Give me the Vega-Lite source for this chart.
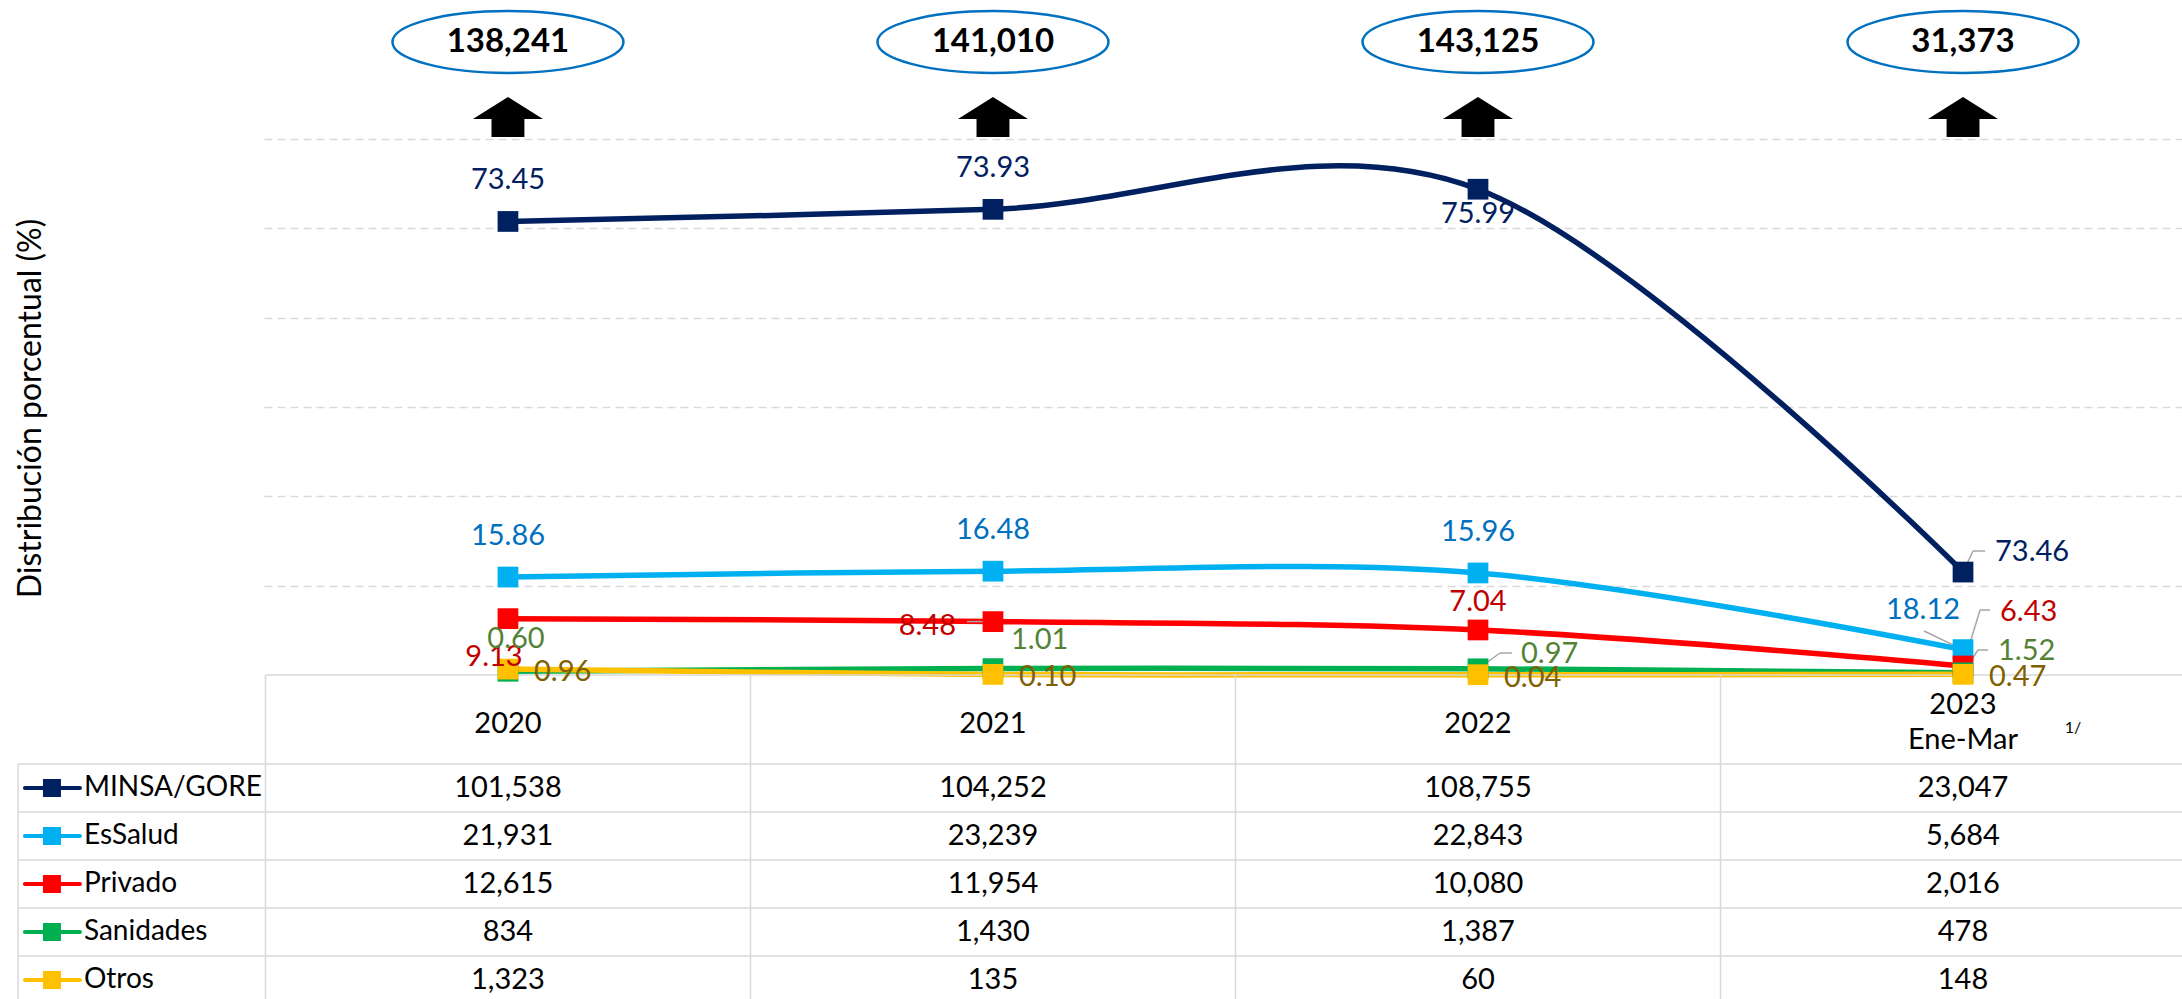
{
  "$schema": "https://vega.github.io/schema/vega-lite/v6.json",
  "width": 1918,
  "height": 675,
  "autosize": {"type": "none"},
  "padding": {"left": 264, "top": 0, "right": 0, "bottom": 324},
  "background": "white",
  "config": {"view": {"stroke": null}, "font": "Lato", "text": {"font": "Lato", "color": "#000000"}},
  "datasets": {
    "series": [
      {"series": "MINSA/GORE", "year": 2020, "count": 101538, "pct": 73.45},
      {"series": "MINSA/GORE", "year": 2021, "count": 104252, "pct": 73.93},
      {"series": "MINSA/GORE", "year": 2022, "count": 108755, "pct": 75.99},
      {"series": "MINSA/GORE", "year": 2023, "count": 23047, "pct": 73.46},
      {"series": "EsSalud", "year": 2020, "count": 21931, "pct": 15.86},
      {"series": "EsSalud", "year": 2021, "count": 23239, "pct": 16.48},
      {"series": "EsSalud", "year": 2022, "count": 22843, "pct": 15.96},
      {"series": "EsSalud", "year": 2023, "count": 5684, "pct": 18.12},
      {"series": "Privado", "year": 2020, "count": 12615, "pct": 9.13},
      {"series": "Privado", "year": 2021, "count": 11954, "pct": 8.48},
      {"series": "Privado", "year": 2022, "count": 10080, "pct": 7.04},
      {"series": "Privado", "year": 2023, "count": 2016, "pct": 6.43},
      {"series": "Sanidades", "year": 2020, "count": 834, "pct": 0.60},
      {"series": "Sanidades", "year": 2021, "count": 1430, "pct": 1.01},
      {"series": "Sanidades", "year": 2022, "count": 1387, "pct": 0.97},
      {"series": "Sanidades", "year": 2023, "count": 478, "pct": 1.52},
      {"series": "Otros", "year": 2020, "count": 1323, "pct": 0.96},
      {"series": "Otros", "year": 2021, "count": 135, "pct": 0.10},
      {"series": "Otros", "year": 2022, "count": 60, "pct": 0.04},
      {"series": "Otros", "year": 2023, "count": 148, "pct": 0.47}
    ],
    "totals": [
      {"year": 2020, "total": 138241},
      {"year": 2021, "total": 141010},
      {"year": 2022, "total": 143125},
      {"year": 2023, "total": 31373}
    ],
    "headers": [
      {"year": 2020, "label": "2020"},
      {"year": 2021, "label": "2021"},
      {"year": 2022, "label": "2022"},
      {"year": 2023, "label": "2023\nEne-Mar"}
    ],
    "one": [{}]
  },
  "resolve": {"scale": {"y": "independent"}},
  "layer": [
    {
      "data": {"name": "series"},
      "mark": {"type": "line", "interpolate": "cardinal", "strokeWidth": 5.5},
      "encoding": {
        "x": {"field": "year", "type": "quantitative", "scale": {"domain": [2019.497, 2023.4515], "nice": false, "zero": false}, "axis": null},
        "y": {"field": "count", "type": "quantitative", "scale": {"domain": [0, 151119], "nice": false, "zero": false},
          "axis": {"values": [20000, 40000, 60000, 80000, 100000, 120000], "labels": false, "ticks": false, "domain": false,
            "grid": true, "gridColor": "#d9d9d9", "gridDash": [8, 5], "gridWidth": 1.5,
            "title": "Distribución porcentual (%)", "titleFont": "Lato", "titleFontSize": 32, "titleFontWeight": "normal", "titleColor": "#000000",
            "titleX": -234, "titleY": 408, "titleAngle": -90, "titleAlign": "center", "titleBaseline": "middle"}},
        "color": {"field": "series", "type": "nominal",
          "scale": {"domain": ["MINSA/GORE", "EsSalud", "Privado", "Sanidades", "Otros"], "range": ["#002060", "#00B0F0", "#FF0000", "#00B050", "#FFC000"]},
          "legend": null}
      }
    },
    {
      "data": {"name": "one"},
      "mark": {"type": "rule", "color": "#d9d9d9", "strokeWidth": 1.5},
      "encoding": {
        "x": {"datum": 2019.5, "type": "quantitative", "scale": {"domain": [2019.497, 2023.4515], "nice": false, "zero": false}, "axis": null},
        "x2": {"datum": 2023.4515},
        "y": {"datum": 0, "type": "quantitative", "scale": {"domain": [0, 151119], "nice": false, "zero": false}, "axis": null}
      }
    },
    {
      "data": {"name": "one"},
      "mark": {"type": "rule", "color": "#d9d9d9", "strokeWidth": 1.5},
      "encoding": {
        "x": {"datum": 2019.5, "type": "quantitative", "scale": {"domain": [2019.497, 2023.4515], "nice": false, "zero": false}, "axis": null},
        "y": {"datum": 0, "type": "quantitative", "scale": {"domain": [0, 151119], "nice": false, "zero": false}, "axis": null},
        "y2": {"datum": -73000}
      }
    },
    {
      "data": {"name": "one"},
      "mark": {"type": "rule", "color": "#d9d9d9", "strokeWidth": 1.5},
      "encoding": {
        "x": {"datum": 2020.5, "type": "quantitative", "scale": {"domain": [2019.497, 2023.4515], "nice": false, "zero": false}, "axis": null},
        "y": {"datum": 0, "type": "quantitative", "scale": {"domain": [0, 151119], "nice": false, "zero": false}, "axis": null},
        "y2": {"datum": -73000}
      }
    },
    {
      "data": {"name": "one"},
      "mark": {"type": "rule", "color": "#d9d9d9", "strokeWidth": 1.5},
      "encoding": {
        "x": {"datum": 2021.5, "type": "quantitative", "scale": {"domain": [2019.497, 2023.4515], "nice": false, "zero": false}, "axis": null},
        "y": {"datum": 0, "type": "quantitative", "scale": {"domain": [0, 151119], "nice": false, "zero": false}, "axis": null},
        "y2": {"datum": -73000}
      }
    },
    {
      "data": {"name": "one"},
      "mark": {"type": "rule", "color": "#d9d9d9", "strokeWidth": 1.5},
      "encoding": {
        "x": {"datum": 2022.5, "type": "quantitative", "scale": {"domain": [2019.497, 2023.4515], "nice": false, "zero": false}, "axis": null},
        "y": {"datum": 0, "type": "quantitative", "scale": {"domain": [0, 151119], "nice": false, "zero": false}, "axis": null},
        "y2": {"datum": -73000}
      }
    },
    {
      "data": {"name": "one"},
      "mark": {"type": "rule", "color": "#d9d9d9", "strokeWidth": 1.5},
      "encoding": {
        "x": {"datum": 2018.99, "type": "quantitative", "scale": {"domain": [2019.497, 2023.4515], "nice": false, "zero": false}, "axis": null},
        "y": {"datum": -19925, "type": "quantitative", "scale": {"domain": [0, 151119], "nice": false, "zero": false}, "axis": null},
        "y2": {"datum": -73000}
      }
    },
    {
      "data": {"name": "series"},
      "transform": [{"filter": "datum.series === 'MINSA/GORE' && datum.year === 2023"}],
      "mark": {"type": "rule", "color": "#a6a6a6", "strokeWidth": 1.5},
      "encoding": {
        "x": {"field": "year", "type": "quantitative", "scale": {"domain": [2019.497, 2023.4515], "nice": false, "zero": false}, "axis": null},
        "y": {"field": "count", "type": "quantitative", "scale": {"domain": [0, 151119], "nice": false, "zero": false}, "axis": null},
        "x2": {"datum": 2023.0206},
        "y2": {"datum": 27761}
      }
    },
    {
      "data": {"name": "one"},
      "mark": {"type": "rule", "color": "#a6a6a6", "strokeWidth": 1.5},
      "encoding": {
        "x": {"datum": 2023.0206, "type": "quantitative", "scale": {"domain": [2019.497, 2023.4515], "nice": false, "zero": false}, "axis": null},
        "x2": {"datum": 2023.0454},
        "y": {"datum": 27761, "type": "quantitative", "scale": {"domain": [0, 151119], "nice": false, "zero": false}, "axis": null}
      }
    },
    {
      "data": {"name": "series"},
      "transform": [{"filter": "datum.series === 'EsSalud' && datum.year === 2023"}],
      "mark": {"type": "rule", "color": "#a6a6a6", "strokeWidth": 1.5},
      "encoding": {
        "x": {"field": "year", "type": "quantitative", "scale": {"domain": [2019.497, 2023.4515], "nice": false, "zero": false}, "axis": null},
        "y": {"field": "count", "type": "quantitative", "scale": {"domain": [0, 151119], "nice": false, "zero": false}, "axis": null},
        "x2": {"datum": 2022.9196},
        "y2": {"datum": 9851}
      }
    },
    {
      "data": {"name": "series"},
      "transform": [{"filter": "datum.series === 'Privado' && datum.year === 2023"}],
      "mark": {"type": "rule", "color": "#a6a6a6", "strokeWidth": 1.5},
      "encoding": {
        "x": {"field": "year", "type": "quantitative", "scale": {"domain": [2019.497, 2023.4515], "nice": false, "zero": false}, "axis": null},
        "y": {"field": "count", "type": "quantitative", "scale": {"domain": [0, 151119], "nice": false, "zero": false}, "axis": null},
        "x2": {"datum": 2023.0351},
        "y2": {"datum": 14552}
      }
    },
    {
      "data": {"name": "one"},
      "mark": {"type": "rule", "color": "#a6a6a6", "strokeWidth": 1.5},
      "encoding": {
        "x": {"datum": 2023.0351, "type": "quantitative", "scale": {"domain": [2019.497, 2023.4515], "nice": false, "zero": false}, "axis": null},
        "x2": {"datum": 2023.0557},
        "y": {"datum": 14552, "type": "quantitative", "scale": {"domain": [0, 151119], "nice": false, "zero": false}, "axis": null}
      }
    },
    {
      "data": {"name": "series"},
      "transform": [{"filter": "datum.series === 'Sanidades' && datum.year === 2023"}],
      "mark": {"type": "rule", "color": "#a6a6a6", "strokeWidth": 1.5},
      "encoding": {
        "x": {"field": "year", "type": "quantitative", "scale": {"domain": [2019.497, 2023.4515], "nice": false, "zero": false}, "axis": null},
        "y": {"field": "count", "type": "quantitative", "scale": {"domain": [0, 151119], "nice": false, "zero": false}, "axis": null},
        "x2": {"datum": 2023.0309},
        "y2": {"datum": 5597}
      }
    },
    {
      "data": {"name": "one"},
      "mark": {"type": "rule", "color": "#a6a6a6", "strokeWidth": 1.5},
      "encoding": {
        "x": {"datum": 2023.0309, "type": "quantitative", "scale": {"domain": [2019.497, 2023.4515], "nice": false, "zero": false}, "axis": null},
        "x2": {"datum": 2023.0515},
        "y": {"datum": 5597, "type": "quantitative", "scale": {"domain": [0, 151119], "nice": false, "zero": false}, "axis": null}
      }
    },
    {
      "data": {"name": "series"},
      "transform": [{"filter": "datum.series === 'Sanidades' && datum.year === 2022"}],
      "mark": {"type": "rule", "color": "#a6a6a6", "strokeWidth": 1.5},
      "encoding": {
        "x": {"field": "year", "type": "quantitative", "scale": {"domain": [2019.497, 2023.4515], "nice": false, "zero": false}, "axis": null},
        "y": {"field": "count", "type": "quantitative", "scale": {"domain": [0, 151119], "nice": false, "zero": false}, "axis": null},
        "x2": {"datum": 2022.0454},
        "y2": {"datum": 4925}
      }
    },
    {
      "data": {"name": "one"},
      "mark": {"type": "rule", "color": "#a6a6a6", "strokeWidth": 1.5},
      "encoding": {
        "x": {"datum": 2022.0454, "type": "quantitative", "scale": {"domain": [2019.497, 2023.4515], "nice": false, "zero": false}, "axis": null},
        "x2": {"datum": 2022.0701},
        "y": {"datum": 4925, "type": "quantitative", "scale": {"domain": [0, 151119], "nice": false, "zero": false}, "axis": null}
      }
    },
    {
      "data": {"name": "series"},
      "transform": [{"filter": "datum.series === 'Privado' && datum.year === 2021"}],
      "mark": {"type": "rule", "color": "#a6a6a6", "strokeWidth": 1.5},
      "encoding": {
        "x": {"field": "year", "type": "quantitative", "scale": {"domain": [2019.497, 2023.4515], "nice": false, "zero": false}, "axis": null},
        "y": {"field": "count", "type": "quantitative", "scale": {"domain": [0, 151119], "nice": false, "zero": false}, "axis": null},
        "x2": {"datum": 2020.9464}
      }
    },
    {
      "data": {"name": "series"},
      "mark": {"type": "point", "shape": "square", "filled": true, "opacity": 1, "size": 430},
      "encoding": {
        "x": {"field": "year", "type": "quantitative", "scale": {"domain": [2019.497, 2023.4515], "nice": false, "zero": false}, "axis": null},
        "y": {"field": "count", "type": "quantitative", "scale": {"domain": [0, 151119], "nice": false, "zero": false}, "axis": null},
        "color": {"field": "series", "type": "nominal",
          "scale": {"domain": ["MINSA/GORE", "EsSalud", "Privado", "Sanidades", "Otros"], "range": ["#002060", "#00B0F0", "#FF0000", "#00B050", "#FFC000"]},
          "legend": null}
      }
    },
    {
      "data": {"name": "series"},
      "encoding": {
        "x": {"field": "year", "type": "quantitative", "scale": {"domain": [2019.497, 2023.4515], "nice": false, "zero": false}, "axis": null},
        "y": {"field": "count", "type": "quantitative", "scale": {"domain": [0, 151119], "nice": false, "zero": false}, "axis": null},
        "text": {"field": "pct", "type": "quantitative", "format": ".2f"},
        "fill": {"field": "series", "type": "nominal",
          "scale": {"domain": ["MINSA/GORE", "EsSalud", "Privado", "Sanidades", "Otros"], "range": ["#002060", "#0070C0", "#C00000", "#548235", "#7F6000"]},
          "legend": null}
      },
      "layer": [
        {"transform": [{"filter": "(datum.series === 'MINSA/GORE' && datum.year <= 2021) || (datum.series === 'EsSalud' && datum.year <= 2022)"}],
         "mark": {"type": "text", "fontSize": 29, "baseline": "middle", "align": "center", "dy": -41}},
        {"transform": [{"filter": "datum.series === 'MINSA/GORE' && datum.year === 2022"}],
         "mark": {"type": "text", "fontSize": 29, "baseline": "middle", "align": "center", "dy": 25}},
        {"transform": [{"filter": "datum.series === 'MINSA/GORE' && datum.year === 2023"}],
         "mark": {"type": "text", "fontSize": 29, "baseline": "middle", "align": "left", "dx": 32, "dy": -20}},
        {"transform": [{"filter": "datum.series === 'EsSalud' && datum.year === 2023"}],
         "mark": {"type": "text", "fontSize": 29, "baseline": "middle", "align": "center", "dx": -40, "dy": -40}},
        {"transform": [{"filter": "datum.series === 'Privado' && datum.year === 2020"}],
         "mark": {"type": "text", "fontSize": 29, "baseline": "middle", "align": "center", "dx": -14, "dy": 38}},
        {"transform": [{"filter": "datum.series === 'Privado' && datum.year === 2021"}],
         "mark": {"type": "text", "fontSize": 29, "baseline": "middle", "align": "right", "dx": -37, "dy": 4}},
        {"transform": [{"filter": "datum.series === 'Privado' && datum.year === 2022"}],
         "mark": {"type": "text", "fontSize": 29, "baseline": "middle", "align": "center", "dy": -28}},
        {"transform": [{"filter": "datum.series === 'Privado' && datum.year === 2023"}],
         "mark": {"type": "text", "fontSize": 29, "baseline": "middle", "align": "left", "dx": 37, "dy": -54}},
        {"transform": [{"filter": "datum.series === 'Sanidades' && datum.year === 2020"}],
         "mark": {"type": "text", "fontSize": 29, "baseline": "middle", "align": "center", "dx": 8, "dy": -32}},
        {"transform": [{"filter": "datum.series === 'Sanidades' && datum.year === 2021"}],
         "mark": {"type": "text", "fontSize": 29, "baseline": "middle", "align": "left", "dx": 18, "dy": -29}},
        {"transform": [{"filter": "datum.series === 'Sanidades' && datum.year === 2022"}],
         "mark": {"type": "text", "fontSize": 29, "baseline": "middle", "align": "left", "dx": 43, "dy": -15}},
        {"transform": [{"filter": "datum.series === 'Sanidades' && datum.year === 2023"}],
         "mark": {"type": "text", "fontSize": 29, "baseline": "middle", "align": "left", "dx": 35, "dy": -22}},
        {"transform": [{"filter": "datum.series === 'Otros'"}],
         "mark": {"type": "text", "fontSize": 29, "baseline": "middle", "align": "left", "dx": 26, "dy": 3}}
      ]
    },
    {
      "data": {"name": "totals"},
      "mark": {"type": "point", "shape": "M-1,0C-1,-0.1477,-0.5523,-0.2675,0,-0.2675C0.5523,-0.2675,1,-0.1477,1,0C1,0.1477,0.5523,0.2675,0,0.2675C-0.5523,0.2675,-1,0.1477,-1,0Z",
        "size": 53361, "filled": true, "fill": "#ffffff", "stroke": "#0070C0", "strokeWidth": 2.5, "opacity": 1},
      "encoding": {
        "x": {"field": "year", "type": "quantitative", "scale": {"domain": [2019.497, 2023.4515], "nice": false, "zero": false}, "axis": null},
        "y": {"datum": 141716, "type": "quantitative", "scale": {"domain": [0, 151119], "nice": false, "zero": false}, "axis": null}
      }
    },
    {
      "data": {"name": "totals"},
      "mark": {"type": "text", "fontSize": 33, "fontWeight": "bold", "baseline": "middle", "align": "center", "color": "#000000"},
      "encoding": {
        "x": {"field": "year", "type": "quantitative", "scale": {"domain": [2019.497, 2023.4515], "nice": false, "zero": false}, "axis": null},
        "y": {"datum": 141716, "type": "quantitative", "scale": {"domain": [0, 151119], "nice": false, "zero": false}, "axis": null},
        "text": {"field": "total", "type": "quantitative", "format": ",d"}
      }
    },
    {
      "data": {"name": "totals"},
      "mark": {"type": "point", "shape": "M0,-0.571L1,0.057L0.47,0.057L0.47,0.571L-0.47,0.571L-0.47,0.057L-1,0.057Z",
        "size": 4900, "filled": true, "color": "#000000", "opacity": 1},
      "encoding": {
        "x": {"field": "year", "type": "quantitative", "scale": {"domain": [2019.497, 2023.4515], "nice": false, "zero": false}, "axis": null},
        "y": {"datum": 124925, "type": "quantitative", "scale": {"domain": [0, 151119], "nice": false, "zero": false}, "axis": null}
      }
    },
    {
      "data": {"name": "headers"},
      "transform": [{"filter": "datum.year < 2023"}],
      "mark": {"type": "text", "fontSize": 29, "baseline": "middle", "align": "center", "color": "#000000"},
      "encoding": {
        "x": {"field": "year", "type": "quantitative", "scale": {"domain": [2019.497, 2023.4515], "nice": false, "zero": false}, "axis": null},
        "y": {"datum": -10970, "type": "quantitative", "scale": {"domain": [0, 151119], "nice": false, "zero": false}, "axis": null},
        "text": {"field": "label", "type": "nominal"}
      }
    },
    {
      "data": {"name": "headers"},
      "transform": [{"filter": "datum.year === 2023"}],
      "mark": {"type": "text", "fontSize": 29, "baseline": "middle", "align": "center", "lineBreak": "\n", "lineHeight": 35, "color": "#000000"},
      "encoding": {
        "x": {"field": "year", "type": "quantitative", "scale": {"domain": [2019.497, 2023.4515], "nice": false, "zero": false}, "axis": null},
        "y": {"datum": -6716, "type": "quantitative", "scale": {"domain": [0, 151119], "nice": false, "zero": false}, "axis": null},
        "text": {"field": "label", "type": "nominal"}
      }
    },
    {
      "data": {"name": "one"},
      "mark": {"type": "text", "fontSize": 16, "baseline": "middle", "align": "center", "color": "#000000", "text": "1/"},
      "encoding": {
        "x": {"datum": 2023.2268, "type": "quantitative", "scale": {"domain": [2019.497, 2023.4515], "nice": false, "zero": false}, "axis": null},
        "y": {"datum": -11866, "type": "quantitative", "scale": {"domain": [0, 151119], "nice": false, "zero": false}, "axis": null}
      }
    },
    {
      "data": {"name": "series"},
      "transform": [{"filter": "datum.year === 2020"}],
      "mark": {"type": "rule", "color": "#d9d9d9", "strokeWidth": 1.5},
      "encoding": {
        "x": {"datum": 2018.99, "type": "quantitative", "scale": {"domain": [2019.497, 2023.4515], "nice": false, "zero": false}, "axis": null},
        "x2": {"datum": 2023.4515},
        "y": {"field": "series", "type": "nominal", "bandPosition": 0,
          "scale": {"type": "band", "domain": ["MINSA/GORE", "EsSalud", "Privado", "Sanidades", "Otros"], "range": [764, 1004], "paddingInner": 0, "paddingOuter": 0}, "axis": null}
      }
    },
    {
      "data": {"name": "series"},
      "mark": {"type": "text", "fontSize": 29, "baseline": "middle", "align": "center", "color": "#000000"},
      "encoding": {
        "x": {"field": "year", "type": "quantitative", "scale": {"domain": [2019.497, 2023.4515], "nice": false, "zero": false}, "axis": null},
        "y": {"field": "series", "type": "nominal", "bandPosition": 0.5,
          "scale": {"type": "band", "domain": ["MINSA/GORE", "EsSalud", "Privado", "Sanidades", "Otros"], "range": [764, 1004], "paddingInner": 0, "paddingOuter": 0}, "axis": null},
        "text": {"field": "count", "type": "quantitative", "format": ",d"}
      }
    },
    {
      "data": {"name": "series"},
      "transform": [{"filter": "datum.year === 2020"}],
      "mark": {"type": "text", "fontSize": 28, "baseline": "middle", "align": "left", "color": "#000000"},
      "encoding": {
        "x": {"datum": 2019.1258, "type": "quantitative", "scale": {"domain": [2019.497, 2023.4515], "nice": false, "zero": false}, "axis": null},
        "y": {"field": "series", "type": "nominal", "bandPosition": 0.5,
          "scale": {"type": "band", "domain": ["MINSA/GORE", "EsSalud", "Privado", "Sanidades", "Otros"], "range": [764, 1004], "paddingInner": 0, "paddingOuter": 0}, "axis": null},
        "text": {"field": "series", "type": "nominal"}
      }
    },
    {
      "data": {"name": "series"},
      "transform": [{"filter": "datum.year === 2020"}],
      "mark": {"type": "rule", "strokeWidth": 4, "strokeCap": "round"},
      "encoding": {
        "x": {"datum": 2019.0041, "type": "quantitative", "scale": {"domain": [2019.497, 2023.4515], "nice": false, "zero": false}, "axis": null},
        "x2": {"datum": 2019.1175},
        "y": {"field": "series", "type": "nominal", "bandPosition": 0.5,
          "scale": {"type": "band", "domain": ["MINSA/GORE", "EsSalud", "Privado", "Sanidades", "Otros"], "range": [764, 1004], "paddingInner": 0, "paddingOuter": 0}, "axis": null},
        "color": {"field": "series", "type": "nominal",
          "scale": {"domain": ["MINSA/GORE", "EsSalud", "Privado", "Sanidades", "Otros"], "range": ["#002060", "#00B0F0", "#FF0000", "#00B050", "#FFC000"]},
          "legend": null}
      }
    },
    {
      "data": {"name": "series"},
      "transform": [{"filter": "datum.year === 2020"}],
      "mark": {"type": "point", "shape": "square", "filled": true, "opacity": 1, "size": 324},
      "encoding": {
        "x": {"datum": 2019.0598, "type": "quantitative", "scale": {"domain": [2019.497, 2023.4515], "nice": false, "zero": false}, "axis": null},
        "y": {"field": "series", "type": "nominal", "bandPosition": 0.5,
          "scale": {"type": "band", "domain": ["MINSA/GORE", "EsSalud", "Privado", "Sanidades", "Otros"], "range": [764, 1004], "paddingInner": 0, "paddingOuter": 0}, "axis": null},
        "color": {"field": "series", "type": "nominal",
          "scale": {"domain": ["MINSA/GORE", "EsSalud", "Privado", "Sanidades", "Otros"], "range": ["#002060", "#00B0F0", "#FF0000", "#00B050", "#FFC000"]},
          "legend": null}
      }
    }
  ]
}
